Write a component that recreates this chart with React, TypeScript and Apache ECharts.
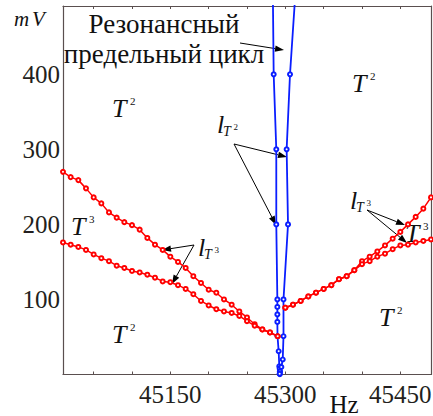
import React, { useEffect, useRef } from "react";
import * as echarts from "echarts";

// ---- data ----
const hzLeft = [45010, 45020, 45030, 45040, 45050, 45060, 45070, 45080, 45090, 45100, 45110, 45120, 45130, 45140, 45150, 45160, 45170, 45180, 45190, 45200, 45210, 45220, 45230, 45240, 45250, 45260, 45270, 45280, 45290];
const leftUpperMv = [270, 263, 259, 248, 236, 228, 216, 209, 203, 199, 193, 182, 173, 166, 157, 150, 142, 131, 122, 113, 109, 100, 93, 84, 76, 67, 60, 56, 51];
const leftLowerMv = [176, 173, 170, 166, 160, 155, 151, 145, 142, 138, 136, 133, 129, 124, 123, 119, 114, 107, 98, 92, 87, 84, 82, 78, 71, 65, 60, 56, 51];

const hzRight = [45300, 45310, 45320, 45330, 45340, 45350, 45360, 45370, 45380, 45390, 45400, 45410, 45420, 45430, 45440, 45450, 45460, 45470, 45480, 45490];
const rightUpperMv = [89, 93, 98, 104, 109, 114, 119, 127, 131, 139, 151, 157, 164, 172, 181, 190, 200, 210, 221, 236];
const rightLowerMv = [89, 93, 98, 104, 109, 114, 119, 127, 131, 139, 147, 151, 157, 161, 167, 172, 173, 176, 178, 180];

const blueLeftHz = [45283.8, 45284.8, 45288.2, 45288.2, 45289.6, 45289.6, 45289.6, 45289.6, 45289.8, 45291.3, 45292.1, 45292.6, 45292.8, 45292.8];
const blueLeftMv = [500, 400, 300, 200, 100, 90, 80, 70, 51, 31, 11, 8, 4, 0.5];
const blueRightHz = [45312.6, 45306.1, 45301.7, 45303.5, 45297.6, 45297.6, 45296.6, 45294.8, 45293.0, 45292.6];
const blueRightMv = [500, 400, 300, 200, 100, 51, 20, 10, 4, 1];

const xTickLabels = [45150, 45300, 45450];
const yTickLabels = [100, 200, 300, 400];

const FONT = "Liberation Serif";
const FRAME = "#5a4f4f";
const RED = "#ff0000";
const BLUE = "#0a1eff";

function txt(x: number, y: number, text: string, size: number, italic = false, align = "left") {
  const style: any = {
    text,
    fontSize: size,
    fontFamily: FONT,
    fill: "#111",
    align,
    verticalAlign: "middle",
  };
  if (italic) style.fontStyle = "italic";
  return { type: "text", x, y, silent: true, style };
}

function tLabel(x: number, y: number, sup: string) {
  return [txt(x, y, "T", 26, true), txt(x + 18, y - 7.5, sup, 11)];
}

function lLabel(x: number, y: number, sup: string) {
  return [txt(x, y, "l", 26, true), txt(x + 6, y + 7, "T", 14, true), txt(x + 16.5, y + 3, sup, 9)];
}

function arrow(x1: number, y1: number, x2: number, y2: number) {
  const dx = x2 - x1;
  const dy = y2 - y1;
  const len = Math.sqrt(dx * dx + dy * dy);
  const ux = dx / len;
  const uy = dy / len;
  const hl = 9;
  const hw = 3.2;
  const bx = x2 - ux * hl;
  const by = y2 - uy * hl;
  return [
    {
      type: "line",
      silent: true,
      shape: { x1, y1, x2: bx, y2: by },
      style: { stroke: "#000", lineWidth: 1 },
    },
    {
      type: "polygon",
      silent: true,
      shape: {
        points: [
          [x2, y2],
          [bx - uy * hw, by + ux * hw],
          [bx + uy * hw, by - ux * hw],
        ],
      },
      style: { fill: "#000" },
    },
  ];
}

function lineSeries(data: number[][], color: string, width: number, size: number) {
  return {
    type: "line",
    data,
    symbol: "emptyCircle",
    symbolSize: size,
    showSymbol: true,
    clip: true,
    lineStyle: { color, width },
    itemStyle: { color, borderColor: color, borderWidth: 1.3 },
    emphasis: { disabled: true },
    silent: true,
  };
}

export default function App() {
  const ref = useRef<HTMLDivElement>(null);

  useEffect(() => {
    if (!ref.current) return;
    const chart = echarts.init(ref.current, undefined, { renderer: "svg" });

    const xCommon = {
      type: "value",
      min: 45010,
      max: 45490,
      splitNumber: 10,
      splitLine: { show: false },
      axisLine: { show: true, onZero: false, lineStyle: { color: FRAME, width: 1.2 } },
      axisTick: { show: true, inside: true, length: 3, lineStyle: { color: FRAME } },
    };

    const graphic: any[] = [
      txt(14, 18.5, "m", 21, true),
      txt(32, 18.5, "V", 21, true),
      txt(344, 404, "Hz", 25, false, "center"),
      txt(164, 24, "Резонансный", 27, false, "center"),
      txt(164, 54, "предельный цикл", 27, false, "center"),
      ...tLabel(112, 108.5, "2"),
      ...tLabel(352, 83, "2"),
      ...tLabel(71, 226, "3"),
      ...tLabel(112, 334, "2"),
      ...tLabel(379, 317, "2"),
      ...tLabel(405, 233, "3"),
      ...lLabel(217, 124, "2"),
      ...lLabel(198, 247, "3"),
      ...lLabel(350, 200, "3"),
      ...arrow(240, 43, 284, 50),
      ...arrow(234, 144, 287, 157),
      ...arrow(234, 144, 276, 225),
      ...arrow(194, 245, 162, 250),
      ...arrow(194, 245, 172, 284),
      ...arrow(367, 210, 405, 225),
      ...arrow(367, 210, 407, 243),
    ];

    chart.setOption({
      animation: false,
      backgroundColor: "#ffffff",
      textStyle: { fontFamily: FONT },
      grid: { left: 63, right: 2, top: 6, bottom: 41.5, containLabel: false, outerBoundsMode: "none" },
      xAxis: [
        {
          ...xCommon,
          position: "bottom",
          axisLabel: {
            show: true,
            margin: 7,
            fontSize: 25,
            fontFamily: FONT,
            color: "#231f20",
            showMinLabel: false,
            showMaxLabel: false,
            formatter: (v: number) => (xTickLabels.includes(v) ? String(v) : ""),
          },
        },
        {
          ...xCommon,
          position: "top",
          axisLabel: { show: false },
        },
      ],
      yAxis: [
        {
          type: "value",
          min: 0,
          max: 491,
          interval: 100,
          position: "left",
          splitLine: { show: false },
          axisLine: { show: true, onZero: false, lineStyle: { color: FRAME, width: 1.2 } },
          axisTick: { show: false },
          axisLabel: {
            show: true,
            margin: 3,
            fontSize: 25,
            fontFamily: FONT,
            color: "#231f20",
            formatter: (v: number) => (yTickLabels.includes(v) ? String(v) : ""),
          },
        },
        {
          type: "value",
          min: 0,
          max: 491,
          interval: 100,
          position: "right",
          splitLine: { show: false },
          axisLine: { show: true, onZero: false, lineStyle: { color: FRAME, width: 1.2 } },
          axisTick: { show: false },
          axisLabel: { show: false },
        },
      ],
      series: [
        lineSeries(blueLeftHz.map((h, i) => [h, blueLeftMv[i]]), BLUE, 1.8, 4),
        lineSeries(blueRightHz.map((h, i) => [h, blueRightMv[i]]), BLUE, 1.8, 4),
        lineSeries(hzLeft.map((h, i) => [h, leftUpperMv[i]]), RED, 1.5, 4),
        lineSeries(hzLeft.map((h, i) => [h, leftLowerMv[i]]), RED, 1.5, 4),
        lineSeries(hzRight.map((h, i) => [h, rightUpperMv[i]]), RED, 1.5, 4),
        lineSeries(hzRight.map((h, i) => [h, rightLowerMv[i]]), RED, 1.5, 4),
      ],
      graphic,
    });

    return () => {
      chart.dispose();
    };
  }, []);

  return (
    <div
      ref={ref}
      style={{ position: "absolute", left: 0, top: 0, width: 433, height: 416, background: "#fff" }}
    />
  );
}
